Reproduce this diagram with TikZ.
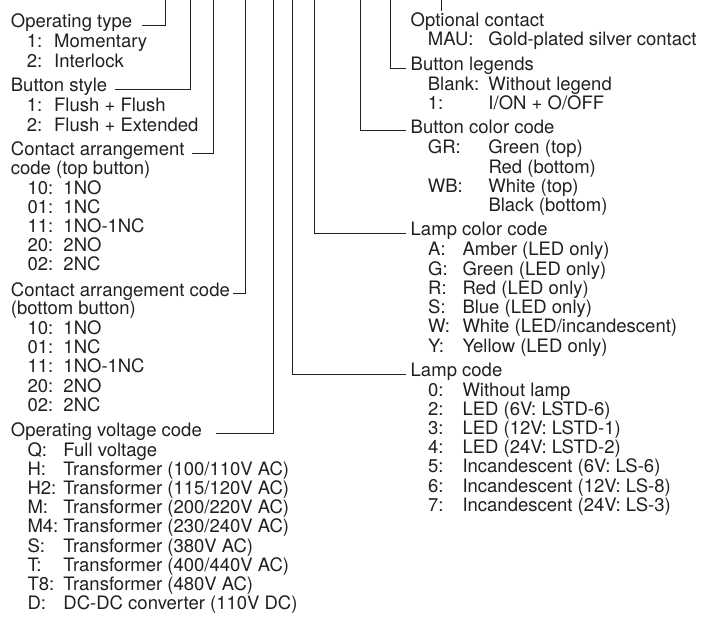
\documentclass[tikz,border=0pt]{standalone}
\usepackage{fontspec}
\setmainfont{TeX Gyre Heros}
\usepackage{xcolor}
\usepackage{tikz}
\usetikzlibrary{positioning,calc}
\definecolor{ink}{HTML}{231F20}

\begin{document}
\begin{tikzpicture}[
  x=1pt, y=-1pt,
  font=\fontsize{18.5}{19}\selectfont,
  txt/.style ={inner sep=0pt, anchor=base west, text=ink},
  head/.style={txt},
  lead/.style={draw=ink, line width=0.9pt},
]
\useasboundingbox (0,0) rectangle (706,617);

% upper ends of the leaders
\foreach \n/\x in {optype/165.4, btnstyle/190.5, topcont/213.9, botcont/245.9,
                   opvolt/273.3, lampcode/292.5, lampcolor/314.3,
                   btncolor/360.4, legend/390, optcont/441.5}
  {\coordinate (t-\n) at (\x,0);}

% left column
\node[head] (optype) at (10.7,28) {Operating type};
\foreach \c/\d [count=\i] in {1:/Momentary, 2:/Interlock}
  {\node[txt] (optype-\i) at (26.7,{28+19.6*\i}) {\makebox[27.3pt][l]{\c}\d};}

\node[head] (btnstyle) at (10.7,91.7) {Button style};
\foreach \c/\d [count=\i] in {1:/{Flush + Flush}, 2:/{Flush + Extended}}
  {\node[txt] (btnstyle-\i) at (26.7,{91.7+19.8*\i}) {\makebox[27.3pt][l]{\c}\d};}

\node[head] (topcont)   at (10.7,156) {Contact arrangement};
\node[txt]  (topcont-0) at (10.7,175) {code (top button)};
\foreach \c/\d [count=\i] in {10:/1NO, 01:/1NC, 11:/1NO-1NC, 20:/2NO, 02:/2NC}
  {\node[txt] (topcont-\i) at (27.3,{175+19.2*\i}) {\makebox[36pt][l]{\c}\d};}

\node[head] (botcont)   at (10.7,296.3) {Contact arrangement code};
\node[txt]  (botcont-0) at (10.7,314)   {(bottom button)};
\foreach \c/\d [count=\i] in {10:/1NO, 01:/1NC, 11:/1NO-1NC, 20:/2NO, 02:/2NC}
  {\node[txt] (botcont-\i) at (27.3,{315.2+19.2*\i}) {\makebox[36pt][l]{\c}\d};}

\node[head] (opvolt) at (10.7,436) {Operating voltage code};
\foreach \c/\d [count=\i] in {Q:/{Full voltage},
    H:/{Transformer (100/110V AC)}, H2:/{Transformer (115/120V AC)},
    M:/{Transformer (200/220V AC)}, M4:/{Transformer (230/240V AC)},
    S:/{Transformer (380V AC)},     T:/{Transformer (400/440V AC)},
    T8:/{Transformer (480V AC)},    D:/{DC-DC converter (110V DC)}}
  {\node[txt] (opvolt-\i) at (27.3,{436.8+19.2*\i}) {\makebox[36pt][l]{\c}\d};}

% right column
\node[head] (optcont) at (410.5,26.7) {Optional contact};
\node[txt] (optcont-1) at (427.7,46) {\makebox[60.6pt][l]{MAU:}Gold-plated silver contact};

\node[head] (legend) at (410.5,70.7) {Button legends};
\foreach \c/\d [count=\i] in {Blank:/{Without legend}, 1:/{I/ON + O/OFF}}
  {\node[txt] (legend-\i) at (427.7,{70.7+19.6*\i}) {\makebox[60.6pt][l]{\c}\d};}

\node[head] (btncolor) at (410.5,133.3) {Button color code};
\foreach \c/\d [count=\i] in {GR:/{Green (top)}, {}/{Red (bottom)},
                              WB:/{White (top)}, {}/{Black (bottom)}}
  {\node[txt] (btncolor-\i) at (427.7,{134.7+19.3*\i}) {\makebox[60.6pt][l]{\c}\d};}

\node[head] (lampcolor) at (410.5,235.7) {Lamp color code};
\foreach \c/\d [count=\i] in {A:/{Amber (LED only)}, G:/{Green (LED only)},
    R:/{Red (LED only)}, S:/{Blue (LED only)},
    W:/{White (LED/incandescent)}, Y:/{Yellow (LED only)}}
  {\node[txt] (lampcolor-\i) at (428,{236.8+19.2*\i}) {\makebox[34.3pt][l]{\c}\d};}

\node[head] (lampcode) at (410.5,376.7) {Lamp code};
\foreach \c/\d [count=\i] in {0:/{Without lamp}, 2:/{LED (6V: LSTD-6)},
    3:/{LED (12V: LSTD-1)}, 4:/{LED (24V: LSTD-2)},
    5:/{Incandescent (6V: LS-6)}, 6:/{Incandescent (12V: LS-8)},
    7:/{Incandescent (24V: LS-3)}}
  {\node[txt] (lampcode-\i) at (428,{376.8+19.2*\i}) {\makebox[34.3pt][l]{\c}\d};}

% leaders
\foreach \n/\g in {optype/10, btnstyle/7.5, topcont/7, botcont/2.5, opvolt/14}
  {\draw[lead] (t-\n) |- ([xshift=\g pt]\n.mid east);}
\foreach \n in {legend, btncolor, lampcolor, lampcode}
  {\draw[lead] (t-\n) |- ([xshift=-5pt]\n.mid west);}
\draw[lead] (t-optcont) -- ([yshift=2pt]t-optcont |- optcont.north);
\end{tikzpicture}
\end{document}
